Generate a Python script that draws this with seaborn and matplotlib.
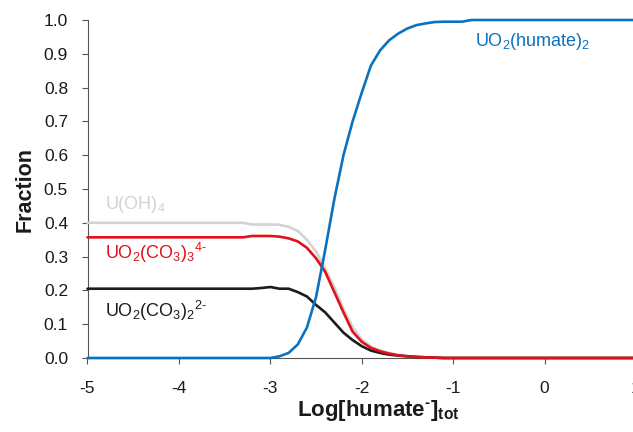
import matplotlib
matplotlib.use("Agg")
import matplotlib.pyplot as plt
import seaborn as sns
import pandas as pd

# log of total humate concentration
log_humate = [-5.0, -4.0, -3.3, -3.2, -3.1, -3.0, -2.9, -2.8, -2.7, -2.6, -2.5,
              -2.4, -2.3, -2.2, -2.1, -2.0, -1.9, -1.8, -1.7, -1.6, -1.5, -1.4,
              -1.3, -1.2, -1.1, -1.0, -0.9, -0.8, 0.0, 1.0]

# species fractions
uo2_humate2 = [0.0, 0.0, 0.0, 0.0, 0.0, 0.0, 0.005, 0.015, 0.04, 0.09, 0.18,
               0.32, 0.47, 0.60, 0.70, 0.785, 0.865, 0.91, 0.94, 0.96, 0.975, 0.985,
               0.99, 0.994, 0.995, 0.995, 0.995, 1.0, 1.0, 1.0]
u_oh4 = [0.40, 0.40, 0.40, 0.395, 0.395, 0.395, 0.394, 0.388, 0.376, 0.35, 0.315,
         0.265, 0.21, 0.145, 0.092, 0.055, 0.034, 0.022, 0.015, 0.009, 0.006, 0.004,
         0.002, 0.001, 0.0, 0.0, 0.0, 0.0, 0.0, 0.0]
uo2_co3_3 = [0.357, 0.357, 0.357, 0.361, 0.361, 0.361, 0.359, 0.354, 0.345, 0.326, 0.295,
             0.255, 0.195, 0.135, 0.078, 0.048, 0.03, 0.02, 0.013, 0.008, 0.005, 0.003,
             0.002, 0.001, 0.0, 0.0, 0.0, 0.0, 0.0, 0.0]
uo2_co3_2 = [0.205, 0.205, 0.205, 0.205, 0.207, 0.21, 0.205, 0.205, 0.195, 0.182, 0.157,
             0.135, 0.105, 0.075, 0.053, 0.035, 0.022, 0.015, 0.01, 0.007, 0.005, 0.003,
             0.002, 0.001, 0.0, 0.0, 0.0, 0.0, 0.0, 0.0]

x_ticks = [-5, -4, -3, -2, -1, 0, 1]
y_ticks = [0.0, 0.1, 0.2, 0.3, 0.4, 0.5, 0.6, 0.7, 0.8, 0.9, 1.0]

sns.set_style("ticks")
plt.rcParams["font.family"] = ["Liberation Sans", "DejaVu Sans"]
plt.rcParams["mathtext.fontset"] = "custom"
plt.rcParams["mathtext.rm"] = "Liberation Sans"
plt.rcParams["mathtext.it"] = "Liberation Sans:italic"
plt.rcParams["mathtext.bf"] = "Liberation Sans:bold"

fig = plt.figure(figsize=(6.33, 4.32), dpi=100)
ax = fig.add_axes([87.5 / 633, 74 / 432, (636 - 87.5) / 633, (358 - 20) / 432])

df = pd.DataFrame({
    "x": log_humate,
    "humate": uo2_humate2,
    "uoh4": u_oh4,
    "co3_3": uo2_co3_3,
    "co3_2": uo2_co3_2,
})

series = [
    ("uoh4", "#d3d3d3"),
    ("co3_2", "#1c1c1c"),
    ("co3_3", "#e3101b"),
    ("humate", "#0b72c0"),
]
for col, color in series:
    sns.lineplot(data=df, x="x", y=col, ax=ax, color=color, linewidth=1.9,
                 clip_on=False, zorder=3)

ax.set_xlim(-5, 1)
ax.set_ylim(0, 1.0)
ax.set_xticks(x_ticks)
ax.set_xticklabels([str(t) for t in x_ticks])
ax.set_yticks(y_ticks)
ax.set_yticklabels([f"{t:.1f}" for t in y_ticks])
ax.tick_params(axis="both", labelsize=12.5, length=4, width=0.8, color="#555555",
               labelcolor="#1a1a1a", direction="out")
ax.tick_params(axis="x", pad=12.5)
ax.tick_params(axis="y", pad=10)

sns.despine(ax=ax)
for side in ("left", "bottom"):
    ax.spines[side].set_color("#555555")
    ax.spines[side].set_linewidth(0.8)

ax.set_ylabel("Fraction", fontsize=15.5, fontweight="bold", color="#1a1a1a")
ax.yaxis.set_label_coords(-0.094, 0.5)
ax.set_xlabel("$\\mathbf{Log[humate^{\u2010}]_{tot}}$", fontsize=16, color="#1a1a1a")
ax.xaxis.set_label_coords(0.53, -0.118)

label_size = 13
ax.text(-0.76, 0.935, r"UO$_2$(humate)$_2$", color="#0b72c0", fontsize=label_size,
        va="center", ha="left")
ax.text(-4.81, 0.455, r"U(OH)$_4$", color="#d3d3d3", fontsize=label_size,
        va="center", ha="left")
ax.text(-4.81, 0.31, "UO$_2$(CO$_3$)$_3$$^{4\u2010}$", color="#e3101b",
        fontsize=label_size, va="center", ha="left")
ax.text(-4.81, 0.14, "UO$_2$(CO$_3$)$_2$$^{2\u2010}$", color="#1c1c1c",
        fontsize=label_size, va="center", ha="left")

fig.savefig("out.png", dpi=100)
